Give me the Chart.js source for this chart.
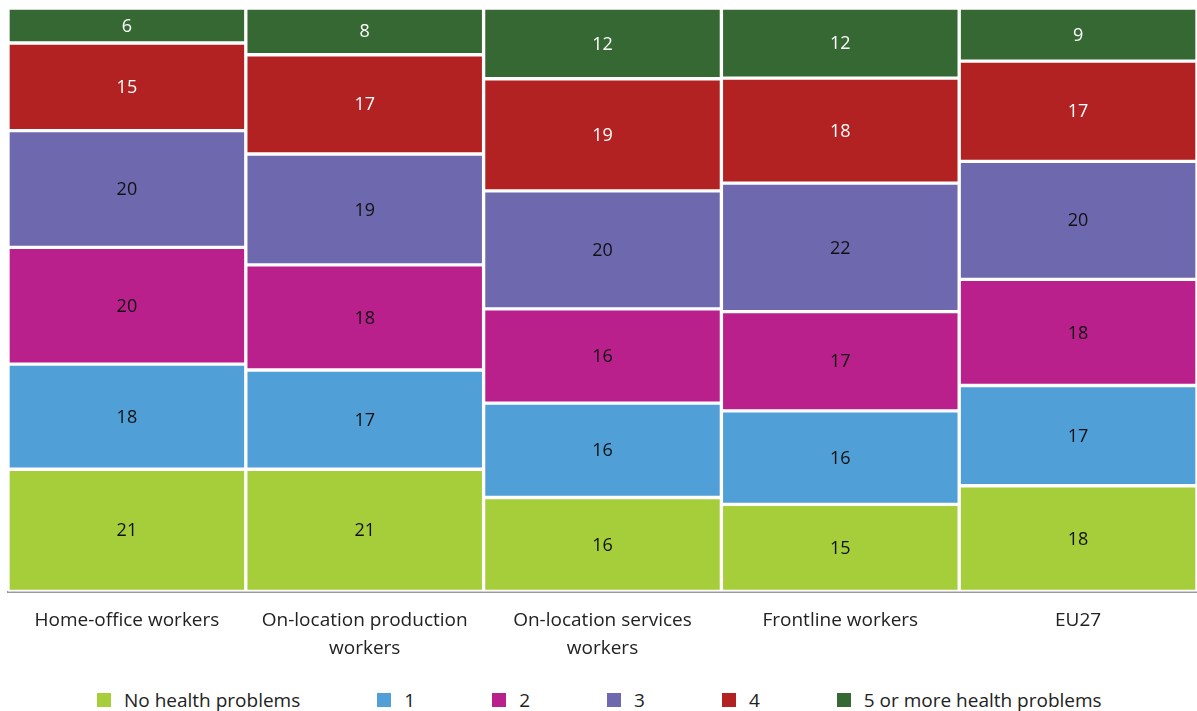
<!DOCTYPE html>
<html lang="en">
<head>
    <meta charset="UTF-8">
    <title>Health problems by worker group</title>
    <script src="https://cdn.jsdelivr.net/npm/chart.js"></script>
    <style>
        body {
            margin: 0;
            background: #fff;
            font-family: "Open Sans", "Noto Sans", sans-serif;
            color: #222;
        }
        .wrap {
            position: relative;
            width: 1197px;
            height: 711px;
        }
        #chart-box {
            position: absolute;
            left: 0;
            top: 0;
            width: 1197px;
            height: 669px;
        }
        .legend {
            position: absolute;
            left: 97px;
            top: 688px;
            display: flex;
            font-size: 19px;
            line-height: 24px;
        }
        .legend span.item {
            display: flex;
            align-items: center;
            margin-right: 77px;
        }
        .legend i {
            display: inline-block;
            width: 14px;
            height: 14px;
            margin-right: 13px;
        }
    </style>
</head>
<body>
<div class="wrap">
    <div id="chart-box"><canvas id="chart"></canvas></div>
    <div class="legend" id="legend"></div>
</div>
<script>
    const categories = [
        'Home-office workers',
        ['On-location production', 'workers'],
        ['On-location services', 'workers'],
        'Frontline workers',
        'EU27'
    ];
    const seriesNames = ['No health problems', '1', '2', '3', '4', '5 or more health problems'];
    const seriesColors = ['#a6cd3a', '#519fd7', '#b9208c', '#6e68ae', '#b22222', '#356832'];
    const labelColors = ['#111', '#111', '#111', '#111', '#fff', '#fff'];

    // shares in %, read per column (bottom to top)
    const noProblems = [21, 21, 16, 15, 18];
    const one = [18, 17, 16, 16, 17];
    const two = [20, 18, 16, 17, 18];
    const three = [20, 19, 20, 22, 20];
    const four = [15, 17, 19, 18, 17];
    const fivePlus = [6, 8, 12, 12, 9];

    const series = [noProblems, one, two, three, four, fivePlus];

    // 100% stacked: scale each column to its own total
    const totals = categories.map((c, i) => series.reduce((s, arr) => s + arr[i], 0));

    const fontFamily = '"Open Sans", "Noto Sans", sans-serif';

    const datasets = series.map((arr, k) => ({
        label: seriesNames[k],
        data: arr.map((v, i) => v / totals[i] * 100),
        raw: arr,
        backgroundColor: seriesColors[k],
        borderColor: '#fff',
        borderWidth: 2,
        borderSkipped: false,
        barPercentage: 1,
        categoryPercentage: 1
    }));

    const segmentLabels = {
        id: 'segmentLabels',
        afterDatasetsDraw(chart) {
            const ctx = chart.ctx;
            ctx.save();
            ctx.font = '18px ' + fontFamily;
            ctx.textAlign = 'center';
            ctx.textBaseline = 'middle';
            chart.data.datasets.forEach((ds, k) => {
                const meta = chart.getDatasetMeta(k);
                meta.data.forEach((bar, i) => {
                    ctx.fillStyle = labelColors[k];
                    ctx.fillText(ds.raw[i], bar.x, (bar.y + bar.base) / 2 + 1);
                });
            });
            ctx.restore();
        }
    };

    new Chart(document.getElementById('chart'), {
        type: 'bar',
        data: { labels: categories, datasets: datasets },
        options: {
            responsive: true,
            maintainAspectRatio: false,
            animation: false,
            layout: { padding: { top: 8, left: 8, right: 0, bottom: 0 } },
            plugins: {
                legend: { display: false },
                tooltip: { enabled: false }
            },
            scales: {
                x: {
                    stacked: true,
                    grid: { display: false },
                    border: { display: true, color: '#999', width: 2 },
                    ticks: {
                        color: '#222',
                        padding: 7,
                        font: { family: fontFamily, size: 19, lineHeight: 1.45 },
                        maxRotation: 0,
                        autoSkip: false
                    }
                },
                y: {
                    stacked: true,
                    min: 0,
                    max: 100,
                    ticks: { display: false },
                    border: { display: false },
                    grid: {
                        drawTicks: false,
                        color: (c) => c.tick && c.tick.value === 100 ? '#eeeeee' : 'transparent'
                    }
                }
            }
        },
        plugins: [segmentLabels]
    });

    const legend = document.getElementById('legend');
    seriesNames.forEach((name, k) => {
        const item = document.createElement('span');
        item.className = 'item';
        item.innerHTML = '<i style="background:' + seriesColors[k] + '"></i>' + name;
        legend.appendChild(item);
    });
</script>
</body>
</html>
